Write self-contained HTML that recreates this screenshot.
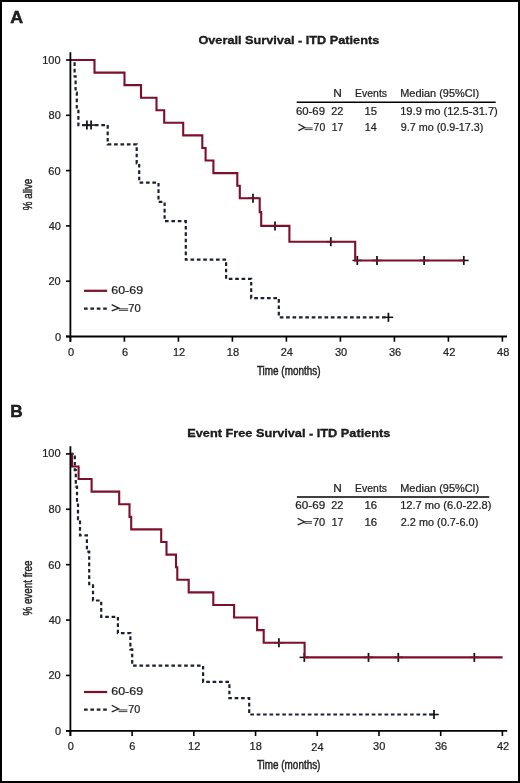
<!DOCTYPE html><html><head><meta charset="utf-8"><style>html,body{margin:0;padding:0;background:#fff;}svg{display:block;}text{font-family:"Liberation Sans",sans-serif;fill:#222;}svg{will-change:transform;}</style></head><body>
<svg width="520" height="783" viewBox="0 0 520 783">
<rect x="0" y="0" width="520" height="783" fill="#fff"/>
<rect x="1" y="1" width="518" height="781" fill="none" stroke="#000" stroke-width="2"/>
<path d="M248.2,198.2 H257.8" stroke="#111" stroke-width="1.5" fill="none"/><path d="M253,193.7 V202.7" stroke="#111" stroke-width="1.75" fill="none"/>
<path d="M270.2,225.9 H279.8" stroke="#111" stroke-width="1.5" fill="none"/><path d="M275,221.4 V230.4" stroke="#111" stroke-width="1.75" fill="none"/>
<path d="M326,241.7 H335.6" stroke="#111" stroke-width="1.5" fill="none"/><path d="M330.8,237.2 V246.2" stroke="#111" stroke-width="1.75" fill="none"/>
<path d="M352.5,260.45 H362.1" stroke="#111" stroke-width="1.5" fill="none"/><path d="M357.3,255.95 V264.95" stroke="#111" stroke-width="1.75" fill="none"/>
<path d="M372.2,260.45 H381.8" stroke="#111" stroke-width="1.5" fill="none"/><path d="M377,255.95 V264.95" stroke="#111" stroke-width="1.75" fill="none"/>
<path d="M419.3,260.45 H428.9" stroke="#111" stroke-width="1.5" fill="none"/><path d="M424.1,255.95 V264.95" stroke="#111" stroke-width="1.75" fill="none"/>
<path d="M459,260.45 H468.6" stroke="#111" stroke-width="1.5" fill="none"/><path d="M463.8,255.95 V264.95" stroke="#111" stroke-width="1.75" fill="none"/>
<path d="M82.1,125.1 H91.7" stroke="#111" stroke-width="1.5" fill="none"/><path d="M86.9,120.6 V129.6" stroke="#111" stroke-width="1.75" fill="none"/>
<path d="M86.3,125.1 H95.9" stroke="#111" stroke-width="1.5" fill="none"/><path d="M91.1,120.6 V129.6" stroke="#111" stroke-width="1.75" fill="none"/>
<path d="M383.6,317.3 H393.2" stroke="#111" stroke-width="1.5" fill="none"/><path d="M388.4,312.8 V321.8" stroke="#111" stroke-width="1.75" fill="none"/>
<path d="M274.1,642.7 H283.7" stroke="#111" stroke-width="1.5" fill="none"/><path d="M278.9,638.2 V647.2" stroke="#111" stroke-width="1.75" fill="none"/>
<path d="M299.5,657.38 H309.1" stroke="#111" stroke-width="1.5" fill="none"/><path d="M304.3,652.88 V661.88" stroke="#111" stroke-width="1.75" fill="none"/>
<path d="M363.7,657.38 H373.3" stroke="#111" stroke-width="1.5" fill="none"/><path d="M368.5,652.88 V661.88" stroke="#111" stroke-width="1.75" fill="none"/>
<path d="M393.5,657.38 H403.1" stroke="#111" stroke-width="1.5" fill="none"/><path d="M398.3,652.88 V661.88" stroke="#111" stroke-width="1.75" fill="none"/>
<path d="M469.5,657.38 H479.1" stroke="#111" stroke-width="1.5" fill="none"/><path d="M474.3,652.88 V661.88" stroke="#111" stroke-width="1.75" fill="none"/>
<path d="M429.2,714.51 H438.8" stroke="#111" stroke-width="1.5" fill="none"/><path d="M434,710.01 V719.01" stroke="#111" stroke-width="1.75" fill="none"/>
<path d="M70.4,60 H74.6 V76.3 H75.6 V92.5 H76.8 V108.8 H78.4 V125.1 H107.7 V144.3 H136.7 V163.5 H139.2 V182.7 H158.5 V201.9 H164.6 V221.2 H185.8 V259.6 H226.1 V278.8 H251.2 V298.1 H278.8 V317.3 H388.4" fill="none" stroke="#1c2034" stroke-width="2.2" stroke-dasharray="3.65 2.74" stroke-dashoffset="-0.18"/>
<path d="M70.4,453.9 H74.8 V470.19 H75.8 V486.48 H77 V502.76 H78 V519.05 H80 V535.34 H86.9 V551.63 H89.2 V584.21 H93 V600.49 H101.2 V616.78 H117.9 V633.07 H130.4 V649.36 H132.2 V665.65 H203.1 V681.94 H229.4 V698.22 H249.2 V714.51 H434" fill="none" stroke="#1c2034" stroke-width="2.2" stroke-dasharray="3.65 2.74" stroke-dashoffset="-6.01"/>
<path d="M70.4,60 H94.5 V72.6 H124.5 V85.1 H141 V97.7 H156.5 V110.3 H164.2 V122.8 H183.2 V135.4 H202.3 V148 H205.6 V160.5 H213.4 V173.1 H237.3 V185.7 H239.8 V198.2 H259.7 V212.1 H261.2 V225.9 H289.4 V241.7 H355.2 V260.45 H463.8" fill="none" stroke="#7e0f2c" stroke-width="2.1"/>
<path d="M70.4,453.9 H72 V466.49 H78.6 V479.07 H91.6 V491.66 H119.2 V504.25 H129.5 V516.83 H131.2 V529.42 H161.2 V542.0 H166.5 V554.59 H176 V567.18 H177.3 V579.76 H188.7 V592.35 H213.3 V604.94 H234.1 V617.52 H257.1 V630.11 H263.7 V642.7 H304.6 V657.38 H502.6" fill="none" stroke="#7e0f2c" stroke-width="2.1"/>
<line x1="84.0" y1="290.8" x2="107.2" y2="290.8" stroke="#7e0f2c" stroke-width="2.2"/>
<line x1="84.0" y1="308.6" x2="107.2" y2="308.6" stroke="#1c2034" stroke-width="2.2" stroke-dasharray="3.65 2.74"/>
<line x1="84.0" y1="692.0" x2="107.2" y2="692.0" stroke="#7e0f2c" stroke-width="2.2"/>
<line x1="84.0" y1="709.7" x2="107.2" y2="709.7" stroke="#1c2034" stroke-width="2.2" stroke-dasharray="3.65 2.74"/>
<path d="M111.7,304.7 L118.9,308.2 L111.7,310.9" fill="none" stroke="#222" stroke-width="1.3" stroke-linejoin="miter"/>
<path d="M118.8,308.8 H128.1 M118.8,310.4 H128.1" fill="none" stroke="#222" stroke-width="0.85"/>
<path d="M111.7,705.3 L118.6,709 L111.7,711.9" fill="none" stroke="#222" stroke-width="1.3" stroke-linejoin="miter"/>
<path d="M118.5,709.9 H127.4 M118.5,711.6 H127.4" fill="none" stroke="#222" stroke-width="0.85"/>
<path d="M298.4,124 L304.6,127.5 L298.4,130.6" fill="none" stroke="#222" stroke-width="1.3" stroke-linejoin="miter"/>
<path d="M304.5,127.9 H312.7 M304.5,129.6 H312.7" fill="none" stroke="#222" stroke-width="0.85"/>
<path d="M297.7,518.3 L304.6,522 L297.7,524.9" fill="none" stroke="#222" stroke-width="1.3" stroke-linejoin="miter"/>
<path d="M304.5,521.6 H312 M304.5,523.3 H312" fill="none" stroke="#222" stroke-width="0.85"/>
<line x1="296.7" y1="102.2" x2="495.7" y2="102.2" stroke="#000" stroke-width="1.5"/>
<line x1="296.9" y1="496.9" x2="489.2" y2="496.9" stroke="#000" stroke-width="1.5"/>
<line x1="70.4" y1="52.2" x2="70.4" y2="341.7" stroke="#000" stroke-width="1.8"/>
<line x1="66" y1="336.5" x2="507" y2="336.5" stroke="#000" stroke-width="1.8"/>
<line x1="66" y1="336.5" x2="70.4" y2="336.5" stroke="#000" stroke-width="1.6"/>
<line x1="66" y1="281.2" x2="70.4" y2="281.2" stroke="#000" stroke-width="1.6"/>
<line x1="66" y1="225.9" x2="70.4" y2="225.9" stroke="#000" stroke-width="1.6"/>
<line x1="66" y1="170.6" x2="70.4" y2="170.6" stroke="#000" stroke-width="1.6"/>
<line x1="66" y1="115.3" x2="70.4" y2="115.3" stroke="#000" stroke-width="1.6"/>
<line x1="66" y1="60" x2="70.4" y2="60" stroke="#000" stroke-width="1.6"/>
<line x1="70.4" y1="336.5" x2="70.4" y2="341.7" stroke="#000" stroke-width="1.6"/>
<line x1="124.4" y1="336.5" x2="124.4" y2="341.7" stroke="#000" stroke-width="1.6"/>
<line x1="178.4" y1="336.5" x2="178.4" y2="341.7" stroke="#000" stroke-width="1.6"/>
<line x1="232.4" y1="336.5" x2="232.4" y2="341.7" stroke="#000" stroke-width="1.6"/>
<line x1="286.4" y1="336.5" x2="286.4" y2="341.7" stroke="#000" stroke-width="1.6"/>
<line x1="340.4" y1="336.5" x2="340.4" y2="341.7" stroke="#000" stroke-width="1.6"/>
<line x1="394.4" y1="336.5" x2="394.4" y2="341.7" stroke="#000" stroke-width="1.6"/>
<line x1="448.4" y1="336.5" x2="448.4" y2="341.7" stroke="#000" stroke-width="1.6"/>
<line x1="502.4" y1="336.5" x2="502.4" y2="341.7" stroke="#000" stroke-width="1.6"/>
<line x1="70.4" y1="446.3" x2="70.4" y2="736" stroke="#000" stroke-width="1.8"/>
<line x1="66" y1="730.8" x2="507.2" y2="730.8" stroke="#000" stroke-width="1.8"/>
<line x1="66" y1="730.8" x2="70.4" y2="730.8" stroke="#000" stroke-width="1.6"/>
<line x1="66" y1="675.42" x2="70.4" y2="675.42" stroke="#000" stroke-width="1.6"/>
<line x1="66" y1="620.04" x2="70.4" y2="620.04" stroke="#000" stroke-width="1.6"/>
<line x1="66" y1="564.66" x2="70.4" y2="564.66" stroke="#000" stroke-width="1.6"/>
<line x1="66" y1="509.28" x2="70.4" y2="509.28" stroke="#000" stroke-width="1.6"/>
<line x1="66" y1="453.9" x2="70.4" y2="453.9" stroke="#000" stroke-width="1.6"/>
<line x1="70.4" y1="730.8" x2="70.4" y2="736" stroke="#000" stroke-width="1.6"/>
<line x1="132.12" y1="730.8" x2="132.12" y2="736" stroke="#000" stroke-width="1.6"/>
<line x1="193.83" y1="730.8" x2="193.83" y2="736" stroke="#000" stroke-width="1.6"/>
<line x1="255.55" y1="730.8" x2="255.55" y2="736" stroke="#000" stroke-width="1.6"/>
<line x1="317.26" y1="730.8" x2="317.26" y2="736" stroke="#000" stroke-width="1.6"/>
<line x1="378.98" y1="730.8" x2="378.98" y2="736" stroke="#000" stroke-width="1.6"/>
<line x1="440.7" y1="730.8" x2="440.7" y2="736" stroke="#000" stroke-width="1.6"/>
<line x1="502.41" y1="730.8" x2="502.41" y2="736" stroke="#000" stroke-width="1.6"/>
<text x="10.19" y="22.9" font-size="16.6" font-weight="bold" textLength="12.86" lengthAdjust="spacingAndGlyphs" stroke="#000" stroke-width="0.4" fill="#000">A</text>
<text x="10.29" y="416.5" font-size="16.6" font-weight="bold" textLength="12.41" lengthAdjust="spacingAndGlyphs" stroke="#000" stroke-width="0.4" fill="#000">B</text>
<text x="198.43" y="43.7" font-size="11.7" font-weight="bold" textLength="180.81" lengthAdjust="spacingAndGlyphs" stroke="#000" stroke-width="0.3" fill="#000">Overall Survival - ITD Patients</text>
<text x="187.28" y="437.4" font-size="11.7" font-weight="bold" textLength="203.09" lengthAdjust="spacingAndGlyphs" stroke="#000" stroke-width="0.3" fill="#000">Event Free Survival - ITD Patients</text>
<text x="55.08" y="340.87" font-size="11" stroke="#222" stroke-width="0.22">0</text>
<text x="48.5" y="284.66" font-size="11" stroke="#222" stroke-width="0.22">20</text>
<text x="48.67" y="229.79" font-size="11" stroke="#222" stroke-width="0.22">40</text>
<text x="48.35" y="174.59" font-size="11" stroke="#222" stroke-width="0.22">60</text>
<text x="48.58" y="119.35" font-size="11" stroke="#222" stroke-width="0.22">80</text>
<text x="42.17" y="63.95" font-size="11" stroke="#222" stroke-width="0.22">100</text>
<text x="55.08" y="734.97" font-size="11" stroke="#222" stroke-width="0.22">0</text>
<text x="48.5" y="679.2" font-size="11" stroke="#222" stroke-width="0.22">20</text>
<text x="48.67" y="623.77" font-size="11" stroke="#222" stroke-width="0.22">40</text>
<text x="48.35" y="569.01" font-size="11" stroke="#222" stroke-width="0.22">60</text>
<text x="48.58" y="513.21" font-size="11" stroke="#222" stroke-width="0.22">80</text>
<text x="42.17" y="457.25" font-size="11" stroke="#222" stroke-width="0.22">100</text>
<text x="67.97" y="356.23" font-size="11" stroke="#222" stroke-width="0.22">0</text>
<text x="122.05" y="356.37" font-size="11" stroke="#222" stroke-width="0.22">6</text>
<text x="172.99" y="355.75" font-size="11" stroke="#222" stroke-width="0.22">12</text>
<text x="226.87" y="355.75" font-size="11" stroke="#222" stroke-width="0.22">18</text>
<text x="280.74" y="355.81" font-size="11" stroke="#222" stroke-width="0.22">24</text>
<text x="334.98" y="355.75" font-size="11" stroke="#222" stroke-width="0.22">30</text>
<text x="389.01" y="355.75" font-size="11" stroke="#222" stroke-width="0.22">36</text>
<text x="443.06" y="355.93" font-size="11" stroke="#222" stroke-width="0.22">42</text>
<text x="497.08" y="355.93" font-size="11" stroke="#222" stroke-width="0.22">48</text>
<text x="67.7" y="749.85" font-size="11" stroke="#222" stroke-width="0.22">0</text>
<text x="129.33" y="750.03" font-size="11" stroke="#222" stroke-width="0.22">6</text>
<text x="188.06" y="750.35" font-size="11" stroke="#222" stroke-width="0.22">12</text>
<text x="249.54" y="750.35" font-size="11" stroke="#222" stroke-width="0.22">18</text>
<text x="311.31" y="750.54" font-size="11" stroke="#222" stroke-width="0.22">24</text>
<text x="373.07" y="750.38" font-size="11" stroke="#222" stroke-width="0.22">30</text>
<text x="434.92" y="750.35" font-size="11" stroke="#222" stroke-width="0.22">36</text>
<text x="496.92" y="750.35" font-size="11" stroke="#222" stroke-width="0.22">42</text>
<text x="256.93" y="374.6" font-size="11.88" textLength="63.58" lengthAdjust="spacingAndGlyphs" stroke="#222" stroke-width="0.45">Time (months)</text>
<text x="256.93" y="769.07" font-size="12.16" textLength="63.48" lengthAdjust="spacingAndGlyphs" stroke="#222" stroke-width="0.45">Time (months)</text>
<text x="31.97" y="210.21" font-size="13" textLength="31.53" lengthAdjust="spacingAndGlyphs" transform="rotate(-90 31.97 210.21)" stroke="#222" stroke-width="0.45">% alive</text>
<text x="31.7" y="615.52" font-size="13" textLength="55.07" lengthAdjust="spacingAndGlyphs" transform="rotate(-90 31.7 615.52)" stroke="#222" stroke-width="0.45">% event free</text>
<text x="111.32" y="294.2" font-size="10.6" textLength="31.75" lengthAdjust="spacingAndGlyphs" stroke="#222" stroke-width="0.22">60-69</text>
<text x="128.22" y="311.9" font-size="10.6" textLength="12.5" lengthAdjust="spacingAndGlyphs" stroke="#222" stroke-width="0.22">70</text>
<text x="111.32" y="695.4" font-size="10.6" textLength="31.75" lengthAdjust="spacingAndGlyphs" stroke="#222" stroke-width="0.22">60-69</text>
<text x="128.35" y="712.6" font-size="10.6" textLength="12.03" lengthAdjust="spacingAndGlyphs" stroke="#222" stroke-width="0.22">70</text>
<text x="333.21" y="97.2" font-size="10.6" textLength="8.59" lengthAdjust="spacingAndGlyphs" stroke="#222" stroke-width="0.22">N</text>
<text x="355.1" y="97.2" font-size="10.6" textLength="31.96" lengthAdjust="spacingAndGlyphs" stroke="#222" stroke-width="0.22">Events</text>
<text x="400.27" y="97.2" font-size="10.6" textLength="79" lengthAdjust="spacingAndGlyphs" stroke="#222" stroke-width="0.22">Median (95%CI)</text>
<text x="295.92" y="114.8" font-size="10.6" textLength="29.06" lengthAdjust="spacingAndGlyphs" stroke="#222" stroke-width="0.22">60-69</text>
<text x="331.22" y="114.8" font-size="10.6" textLength="12.1" lengthAdjust="spacingAndGlyphs" stroke="#222" stroke-width="0.22">22</text>
<text x="364.44" y="114.8" font-size="10.6" textLength="12.57" lengthAdjust="spacingAndGlyphs" stroke="#222" stroke-width="0.22">15</text>
<text x="400.2" y="114.8" font-size="10.6" textLength="97.64" lengthAdjust="spacingAndGlyphs" stroke="#222" stroke-width="0.22">19.9 mo (12.5-31.7)</text>
<text x="313.6" y="131.3" font-size="10.6" textLength="11.66" lengthAdjust="spacingAndGlyphs" stroke="#222" stroke-width="0.22">70</text>
<text x="331.72" y="131.3" font-size="10.6" textLength="11.55" lengthAdjust="spacingAndGlyphs" stroke="#222" stroke-width="0.22">17</text>
<text x="364.83" y="131.3" font-size="10.6" textLength="12" lengthAdjust="spacingAndGlyphs" stroke="#222" stroke-width="0.22">14</text>
<text x="400.76" y="131.3" font-size="10.6" textLength="82.66" lengthAdjust="spacingAndGlyphs" stroke="#222" stroke-width="0.22">9.7 mo (0.9-17.3)</text>
<text x="333.21" y="491.7" font-size="10.6" textLength="8.59" lengthAdjust="spacingAndGlyphs" stroke="#222" stroke-width="0.22">N</text>
<text x="355.1" y="491.7" font-size="10.6" textLength="31.96" lengthAdjust="spacingAndGlyphs" stroke="#222" stroke-width="0.22">Events</text>
<text x="400.27" y="491.7" font-size="10.6" textLength="79" lengthAdjust="spacingAndGlyphs" stroke="#222" stroke-width="0.22">Median (95%CI)</text>
<text x="295.34" y="508.8" font-size="10.6" textLength="29.87" lengthAdjust="spacingAndGlyphs" stroke="#222" stroke-width="0.22">60-69</text>
<text x="331.22" y="508.8" font-size="10.6" textLength="12.1" lengthAdjust="spacingAndGlyphs" stroke="#222" stroke-width="0.22">22</text>
<text x="364.44" y="508.8" font-size="10.6" textLength="12.66" lengthAdjust="spacingAndGlyphs" stroke="#222" stroke-width="0.22">16</text>
<text x="400.2" y="508.8" font-size="10.6" textLength="91.24" lengthAdjust="spacingAndGlyphs" stroke="#222" stroke-width="0.22">12.7 mo (6.0-22.8)</text>
<text x="312.94" y="525.6" font-size="10.6" textLength="12.26" lengthAdjust="spacingAndGlyphs" stroke="#222" stroke-width="0.22">70</text>
<text x="331.72" y="525.6" font-size="10.6" textLength="11.55" lengthAdjust="spacingAndGlyphs" stroke="#222" stroke-width="0.22">17</text>
<text x="364.44" y="525.6" font-size="10.6" textLength="12.66" lengthAdjust="spacingAndGlyphs" stroke="#222" stroke-width="0.22">16</text>
<text x="400.76" y="525.6" font-size="10.6" textLength="77.54" lengthAdjust="spacingAndGlyphs" stroke="#222" stroke-width="0.22">2.2 mo (0.7-6.0)</text>
</svg></body></html>
